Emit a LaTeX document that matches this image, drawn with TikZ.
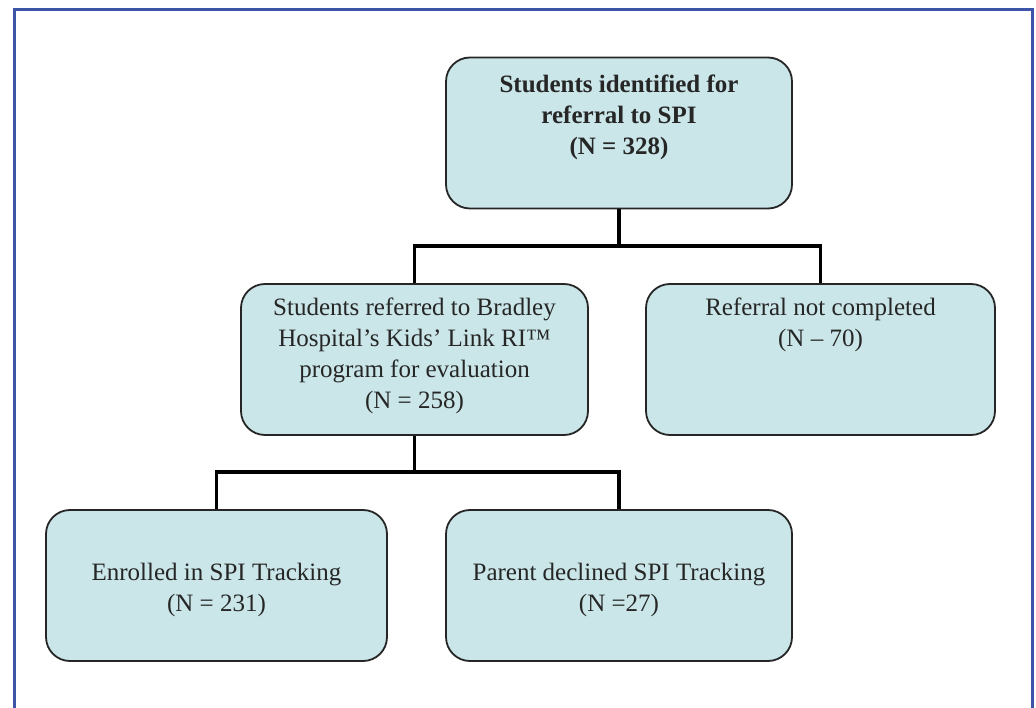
\documentclass[tikz,border=0pt]{standalone}
\usepackage{fontspec}
\setmainfont{Liberation Serif}
\begin{document}
\begin{tikzpicture}[x=1pt,y=-1pt,
  flowbox/.style={draw=black!85, line width=1.8pt, fill=boxfill, rounded corners=24pt,
    minimum width=#1, minimum height=151pt, inner sep=0pt},
  flowbox/.default=346pt,
  boxtext/.style={align=center, font=\fontsize{25}{31}\selectfont, text=black!85, inner sep=0pt},
  link/.style={line width=3.6pt, black}]
\definecolor{boxfill}{RGB}{202,230,232}
\definecolor{framecol}{RGB}{62,84,168}
\useasboundingbox (0,0) rectangle (1036,708);
\fill[white] (0,0) rectangle (1036,708);
% outer frame
\draw[framecol, line width=3pt] (14,710) -- (14,10) -- (1032,10) -- (1032,710);

% boxes
\node[flowbox=346pt] (top)   at (619,133) {};
\node[flowbox=347pt] (ref)   at (414.5,359.5) {};
\node[flowbox=349pt] (notc)  at (820.5,359.5) {};
\node[flowbox=341pt] (enr)   at (216.5,585.5) {};
\node[flowbox=346pt] (decl)  at (619,585.5) {};

% texts
\node[boxtext, font=\fontsize{25}{31}\selectfont\bfseries] (ttop) at (619,117)
  {Students identified for\\referral to SPI\\(N = 328)};
\node[boxtext] (tref) at (414.5,356)
  {Students referred to Bradley\\Hospital's Kids' Link RI™\\program for evaluation\\(N = 258)};
\node[boxtext] (tnotc) at (820.5,325) {Referral not completed\\(N – 70)};
\node[boxtext] (tenr) at (216.5,590) {Enrolled in SPI Tracking\\(N = 231)};
\node[boxtext] (tdecl) at (619,590) {Parent declined SPI Tracking\\(N =27)};

% connectors
\coordinate (j1) at (619,246);
\coordinate (j2) at (414.5,472);
\draw[link] (top.south) -- (j1);
\draw[link] (ref.north) |- (j1) -| (notc.north);
\draw[link] (ref.south) -- (j2);
\draw[link] (enr.north) |- (j2) -| (decl.north);
\end{tikzpicture}
\end{document}
